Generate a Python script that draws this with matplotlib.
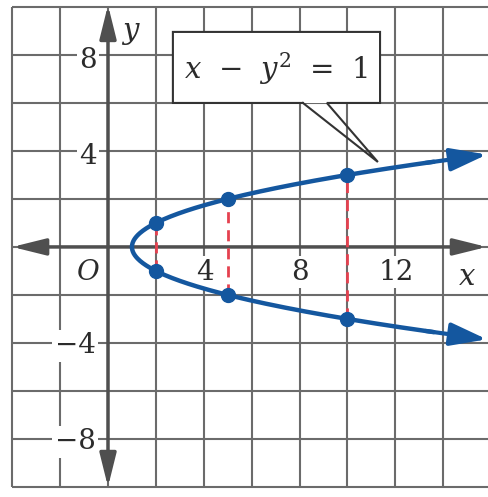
import numpy as np
import matplotlib
matplotlib.use("Agg")
import matplotlib.pyplot as plt
from matplotlib.patches import Rectangle, FancyArrowPatch

plt.rcParams['mathtext.fontset'] = 'dejavuserif'

# ---- data ----
point_x = [2, 5, 10]
point_y = [1, 2, 3]
x_tick_values = [4, 8, 12]
x_tick_labels = ["4", "8", "12"]
y_tick_values = [8, 4, -4, -8]
y_tick_labels = ["8", "4", "\u22124", "\u22128"]
equation_label = r"$x\;\,-\;\,y^2\;\,=\;\,1$"
curve_y_end = 3.85  # where the drawn branch ends

GRID_C = "#6b6b6b"
AXIS_C = "#4f4f4f"
BLUE = "#14579f"
RED = "#e5414f"
TEXT_C = "#2b2b2b"
SERIF = "DejaVu Serif"

fig = plt.figure(figsize=(4.89, 4.97), dpi=100)
ax = fig.add_axes([0, 0, 1, 1])
ax.set_xlim(-4.51, 15.91)
ax.set_ylim(-10.42, 10.29)
ax.axis("off")

# grid
for gx in range(-4, 18, 2):
    ax.plot([gx, gx], [-10, 10], color=GRID_C, lw=1.5, zorder=1, solid_capstyle="butt")
for gy in range(-10, 12, 2):
    ax.plot([-4, 17], [gy, gy], color=GRID_C, lw=1.5, zorder=1, solid_capstyle="butt")

# axes with arrows at both ends
ax_arrow = dict(arrowstyle="<|-|>,head_length=1.45,head_width=0.36", color=AXIS_C,
                lw=2.5, mutation_scale=14, shrinkA=0, shrinkB=0)
ax.add_patch(FancyArrowPatch((-4.0, 0), (15.82, 0), zorder=2, **ax_arrow))
ax.add_patch(FancyArrowPatch((0, -10.0), (0, 10.08), zorder=2, **ax_arrow))

# tick labels with white background
lab_kw = dict(fontsize=20, family=SERIF, color=TEXT_C, ha="center", va="center",
              zorder=3, bbox=dict(boxstyle="square,pad=0.08", fc="white", ec="none"))
for v, t in zip(y_tick_values, y_tick_labels):
    xx = -0.84 if v > 0 else -1.38
    yy = v - 0.22 if v > 0 else v - 0.12
    ax.text(xx, yy, t, **lab_kw)
for v, t in zip(x_tick_values, x_tick_labels):
    ax.text(v + 0.03, -1.05, t, **lab_kw)
ax.text(-0.84, -1.05, "O", fontsize=20, family=SERIF, style="italic", color=TEXT_C,
        ha="center", va="center", zorder=3)
ax.text(14.99, -1.25, "x", fontsize=21, family=SERIF, style="italic", color=TEXT_C,
        ha="center", va="center", zorder=3)
ax.text(0.95, 9.0, "y", fontsize=21, family=SERIF, style="italic", color=TEXT_C,
        ha="center", va="center", zorder=3)

# red dashed verticals between symmetric points
for px, py in zip(point_x, point_y):
    ax.plot([px, px], [-py, py], color=RED, lw=2.0, dashes=(4, 2.5), zorder=4)

# curve x - y^2 = 1
ys = np.linspace(-curve_y_end + 0.3, curve_y_end - 0.3, 300)
xs = ys ** 2 + 1
ax.plot(xs, ys, color=BLUE, lw=3.2, zorder=5, solid_capstyle="round")
for sgn in (1, -1):
    y0 = sgn * (curve_y_end - 0.35)
    y1 = sgn * curve_y_end
    ax.add_patch(FancyArrowPatch((y0 ** 2 + 1, y0), (y1 ** 2 + 1, y1),
                                 arrowstyle="-|>,head_length=1.6,head_width=0.5",
                                 mutation_scale=14, color=BLUE, lw=3.0,
                                 shrinkA=0, shrinkB=0, zorder=5))

# points
ax.plot(point_x + point_x, point_y + [-v for v in point_y], "o", color=BLUE,
        markersize=10, zorder=6)

# callout box
bx0, bx1, by0, by1 = 2.71, 11.36, 6.0, 8.96
b1, b2 = 8.14, 9.14
tip = (11.27, 3.54)
ax.add_patch(Rectangle((bx0, by0), bx1 - bx0, by1 - by0, fc="white", ec="none", zorder=7))
outline_x = [b1, bx0, bx0, bx1, bx1, b2, tip[0], b1]
outline_y = [by0, by0, by1, by1, by0, by0, tip[1], by0]
ax.plot(outline_x, outline_y, color="#333333", lw=1.5, zorder=8, solid_joinstyle="miter")
ax.text((bx0 + bx1) / 2, (by0 + by1) / 2 - 0.05, equation_label, fontsize=21,
        color=TEXT_C, ha="center", va="center", zorder=9)

fig.savefig("out.png", dpi=100)
